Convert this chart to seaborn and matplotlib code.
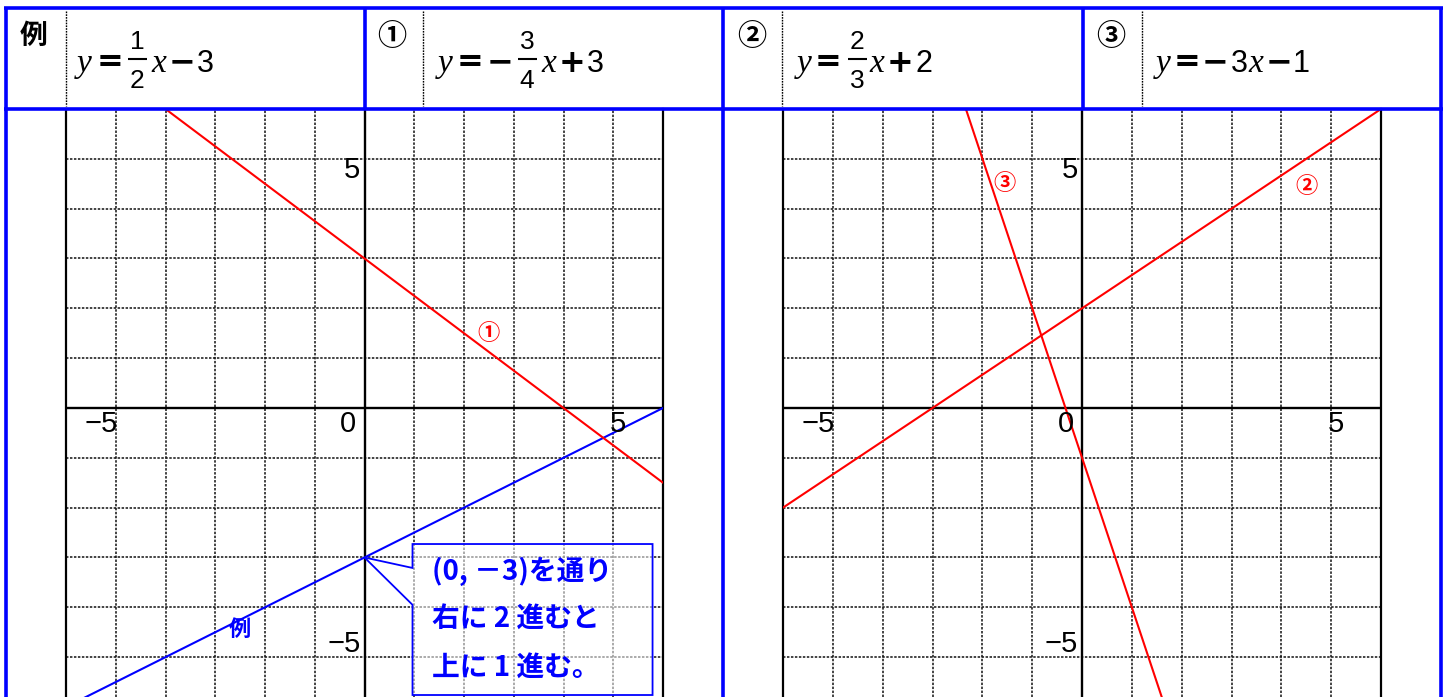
import numpy as np
import pandas as pd
import matplotlib
matplotlib.use("Agg")
import matplotlib.pyplot as plt
import seaborn as sns
from matplotlib.patches import Polygon

# ---------------- data ----------------
panel_titles = ["例", "①", "②", "③"]
# equation pieces: (kind, text)  kind: it / op / num / frac
equations = [
    [("it", "y"), ("op", "="), ("frac", ("1", "2")), ("it", "x"), ("op", "−"), ("num", "3")],
    [("it", "y"), ("op", "="), ("op", "−"), ("frac", ("3", "4")), ("it", "x"), ("op", "+"), ("num", "3")],
    [("it", "y"), ("op", "="), ("frac", ("2", "3")), ("it", "x"), ("op", "+"), ("num", "2")],
    [("it", "y"), ("op", "="), ("op", "−"), ("num", "3"), ("it", "x"), ("op", "−"), ("num", "1")],
]
line_names = ["例", "①", "②", "③"]
line_panel = [0, 0, 1, 1]
line_x_start = [-6.0, -4.0, -6.0, -2.33]
line_x_end = [6.0, 6.0, 6.0, 1.7]
line_y_start = [-6.0, 6.0, -2.0, 6.0]
line_y_end = [0.0, -1.5, 6.0, -6.1]
line_label_x = [-2.5, 2.5, 4.5, -1.55]
line_label_y = [-4.45, 1.5, 4.45, 4.5]
tick_values = [-5, 0, 5]
tick_labels = ["−5", "0", "5"]
callout_text = ["(0, －3)を通り", "右に 2 進むと", "上に 1 進む。"]

# ---------------- layout ----------------
W, H = 1449, 697
BLUE = "#0000ff"
RED = "#ff0000"
sns.set_theme(style="white")
plt.rcParams["font.family"] = ["Noto Sans CJK JP", "DejaVu Sans"]

fig = plt.figure(figsize=(W / 100, H / 100), dpi=100)
fig.patch.set_facecolor("white")

grid_top_px = 109
panel_px = [(66, 663), (783, 1381)]
ymin, ymax = -5.80, 6.0

df = pd.DataFrame({
    "name": np.repeat(line_names, 2),
    "panel": np.repeat(line_panel, 2),
    "x": np.ravel(np.column_stack([line_x_start, line_x_end])),
    "y": np.ravel(np.column_stack([line_y_start, line_y_end])),
})
palette = dict(zip(line_names, [BLUE, RED, RED, RED]))

axes = []
for p, (l, r) in enumerate(panel_px):
    ax = fig.add_axes([l / W, 0, (r - l) / W, (H - grid_top_px) / H])
    axes.append(ax)
    ax.set_xlim(-6, 6)
    ax.set_ylim(ymin, ymax)
    ax.set_xticks(np.arange(-6, 7))
    ax.set_yticks(np.arange(-5, 7))
    ax.grid(True, color="#111111", linestyle=(0, (1.6, 1.0)), linewidth=1.1)
    ax.tick_params(length=0, labelbottom=False, labelleft=False)
    for s in ["top", "bottom"]:
        ax.spines[s].set_visible(False)
    for s in ["left", "right"]:
        ax.spines[s].set_color("black")
        ax.spines[s].set_linewidth(1.6)
    ax.axhline(0, color="black", lw=1.7, zorder=2)
    ax.axvline(0, color="black", lw=1.7, zorder=2)
    sub = df[df["panel"] == p]
    sns.lineplot(data=sub, x="x", y="y", hue="name", palette=palette, ax=ax,
                 legend=False, sort=False, estimator=None, linewidth=1.5, zorder=3)
    ax.set_xlabel("")
    ax.set_ylabel("")
    # axis numbers
    tk = dict(family="Liberation Sans", fontsize=21, color="black")
    ax.text(-5.3, -0.05, tick_labels[0], ha="center", va="top", **tk)
    ax.text(-0.17, -0.05, tick_labels[1], ha="right", va="top", **tk)
    ax.text(5.1, -0.05, tick_labels[2], ha="center", va="top", **tk)
    ax.text(-0.08, 5.05, tick_labels[2], ha="right", va="top", **tk)
    ax.text(-0.08, -5.02, tick_labels[0], ha="right", va="bottom", **tk)

for i, name in enumerate(line_names):
    ax = axes[line_panel[i]]
    ax.text(line_label_x[i], line_label_y[i], name, color=palette[name],
            fontsize=16, fontweight="bold", ha="center", va="center", zorder=4)

# callout box on the example panel
ax = axes[0]
bx0, bx1, by0, by1 = 0.965, 5.79, -2.73, -5.76
poly = Polygon([(bx0, -3.21), (bx0, by0), (bx1, by0), (bx1, by1), (bx0, by1),
                (bx0, -3.95), (0, -3.0)], closed=True,
               facecolor=(1, 1, 1, 0.55), edgecolor=BLUE, linewidth=1.3, zorder=4)
ax.add_patch(poly)
for j, (t, yy) in enumerate(zip(callout_text, [-3.27, -4.25, -5.22])):
    ax.text(1.35, yy, t, color=BLUE, fontsize=20, fontweight="bold",
            ha="left", va="center", zorder=5,
            family=["Noto Sans CJK JP", "DejaVu Sans"])

# ---------------- overlay (frame + header) ----------------
ov = fig.add_axes([0, 0, 1, 1], zorder=10)
ov.set_xlim(0, W)
ov.set_ylim(H, 0)
ov.axis("off")
ov.patch.set_alpha(0)

blw = 2.6
ov.plot([4, 1443], [8.4, 8.4], color=BLUE, lw=blw, solid_capstyle="butt")
ov.plot([4, 1443], [108.5, 108.5], color=BLUE, lw=blw, solid_capstyle="butt")
for xx in [5.7, 723, 1440.5]:
    ov.plot([xx, xx], [7, H], color=BLUE, lw=blw, solid_capstyle="butt")
for xx in [365, 1083]:
    ov.plot([xx, xx], [7, 109], color=BLUE, lw=blw, solid_capstyle="butt")
for xx in [66, 423, 782, 1142]:
    ov.plot([xx, xx], [11, 106], color="black", lw=1.0, linestyle=(0, (1.2, 0.8)))

title_x = [34, 392, 752, 1111]
for t, xx in zip(panel_titles, title_x):
    ov.text(xx, 36, t, fontsize=21 if t != "例" else 20, fontweight="bold",
            ha="center", va="center", color="black")

piece_x = [
    [84, 110, 137, 159, 182, 205],
    [445, 470, 500, 527, 549, 572, 595],
    [804, 828, 857, 877, 900, 924],
    [1163, 1187, 1215, 1239, 1256, 1279, 1301],
]
base = 72
for eq, xs in zip(equations, piece_x):
    for (kind, txt), xx in zip(eq, xs):
        if kind == "it":
            ov.text(xx, base, txt, family="Liberation Serif", style="italic",
                    fontsize=24, ha="center", va="baseline", color="black")
        elif kind == "op":
            ov.text(xx, base - 0.5, txt, family="DejaVu Sans",
                    fontsize=23, fontweight="bold", ha="center", va="baseline",
                    color="black")
        elif kind == "num":
            ov.text(xx, base, txt, family="Liberation Sans", fontsize=22,
                    ha="center", va="baseline", color="black")
        else:
            num, den = txt
            ov.text(xx, 49, num, family="Liberation Sans", fontsize=19,
                    ha="center", va="baseline", color="black")
            ov.text(xx, 88, den, family="Liberation Sans", fontsize=19,
                    ha="center", va="baseline", color="black")
            ov.plot([xx - 9.5, xx + 9.5], [59, 59], color="black", lw=1.5,
                    solid_capstyle="butt")

fig.savefig("out.png", dpi=100)
